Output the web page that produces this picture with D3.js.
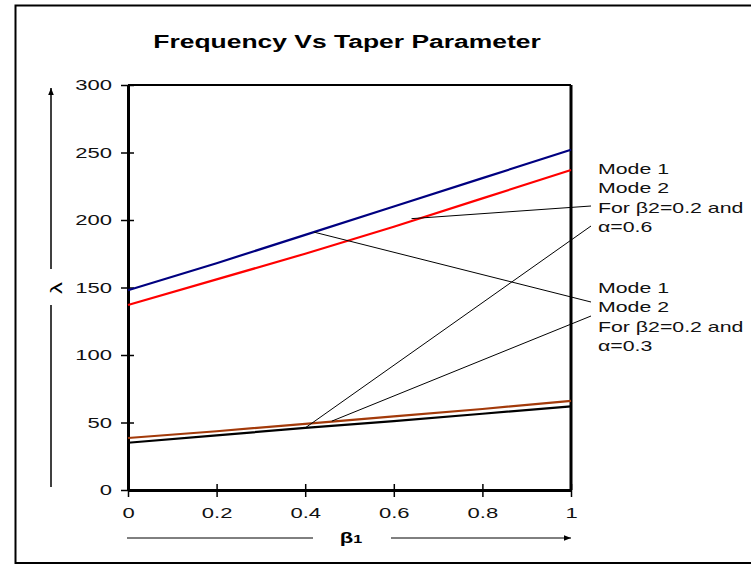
<!DOCTYPE html>
<html>
<head>
<meta charset="utf-8">
<script src="https://cdn.jsdelivr.net/npm/d3@7"></script>
<style>
  body { margin: 0; background: #fff; }
  svg { font-family: "Liberation Sans", Arial, sans-serif; }
</style>
</head>
<body>
<div id="chart-area"></div>
<script>
// beta1 values along the x axis
const beta1 = [0, 0.2, 0.4, 0.6, 0.8, 1];
// alpha = 0.6
const blueSeries = [148, 168, 189, 210, 231, 252];
const redSeries = [137, 156, 175, 195, 216, 237];
// alpha = 0.3
const brownSeries = [38.5, 43.5, 49, 54.5, 60, 66];
const blackSeries = [35, 40.5, 46, 51, 56.5, 62];

const yTicks = [0, 50, 100, 150, 200, 250, 300];
const xTicks = [0, 0.2, 0.4, 0.6, 0.8, 1];

const width = 751, height = 569;
const stretch = 1.47; // the original text is drawn wide

const svg = d3.select("#chart-area")
    .append("svg")
    .attr("width", width)
    .attr("height", height);

// outer frame (right edge runs off the page)
svg.append("path")
    .attr("d", "M760,5.5 H15.5 V563 H760")
    .attr("fill", "none")
    .attr("stroke", "#000")
    .attr("stroke-width", 2);

const x = d3.scaleLinear().domain([0, 1]).range([128, 571]);
const y = d3.scaleLinear().domain([0, 300]).range([490, 85]);

function wideText(sel, px, py) {
    return sel.attr("transform", "translate(" + px + "," + py + ") scale(" + stretch + ",1)");
}

wideText(svg.append("text"), 347, 48)
    .attr("text-anchor", "middle")
    .style("font-weight", "bold")
    .style("font-size", "18px")
    .text("Frequency Vs Taper Parameter");

// plot box: top and right edges
svg.append("line")
    .attr("x1", x(0)).attr("x2", x(1))
    .attr("y1", y(300)).attr("y2", y(300))
    .attr("stroke", "#000").attr("stroke-width", 2);
svg.append("line")
    .attr("x1", x(1)).attr("x2", x(1))
    .attr("y1", y(300)).attr("y2", y(0))
    .attr("stroke", "#000").attr("stroke-width", 3);

// axes
const yAxis = svg.append("g")
    .attr("transform", "translate(" + x(0) + ",0)")
    .call(d3.axisLeft(y).tickValues(yTicks).tickSize(7).tickSizeOuter(0));
const xAxis = svg.append("g")
    .attr("transform", "translate(0," + y(0) + ")")
    .call(d3.axisBottom(x).tickValues(xTicks).tickSize(7).tickSizeOuter(0)
        .tickFormat(d => d === 0 || d === 1 ? d3.format("d")(d) : d3.format(".1f")(d)));

yAxis.select(".domain").attr("stroke-width", 3);
xAxis.select(".domain").attr("stroke-width", 3);
yAxis.selectAll(".tick line").attr("x2", 6).attr("x1", -7).attr("stroke-width", 1.5);
xAxis.selectAll(".tick line").attr("y1", -6).attr("y2", 7).attr("stroke-width", 1.5);
yAxis.selectAll(".tick text")
    .attr("x", 0)
    .attr("transform", "translate(-16,0) scale(" + stretch + ",1)")
    .style("font-size", "15px")
    .style("font-family", "Liberation Sans, Arial, sans-serif")
    .attr("fill", "#111");
xAxis.selectAll(".tick text")
    .attr("y", 0)
    .attr("transform", "translate(0,17) scale(" + stretch + ",1)")
    .style("font-size", "15px")
    .style("font-family", "Liberation Sans, Arial, sans-serif")
    .attr("fill", "#111");

// series lines
const line = d3.line()
    .x((d, i) => x(beta1[i]))
    .y(d => y(d));

const series = [
    { values: brownSeries, color: "#a33a0a" },
    { values: blackSeries, color: "#000000" },
    { values: redSeries, color: "#ff0000" },
    { values: blueSeries, color: "#000080" }
];

svg.selectAll("path.series")
    .data(series)
    .join("path")
    .attr("class", "series")
    .attr("d", d => line(d.values))
    .attr("fill", "none")
    .attr("stroke", d => d.color)
    .attr("stroke-width", 2.2);

// annotation text
const noteA = ["Mode 1", "Mode 2", "For \u03b22=0.2 and", "\u03b1=0.6"];
const noteB = ["Mode 1", "Mode 2", "For \u03b22=0.2 and", "\u03b1=0.3"];

function note(lines, top) {
    svg.append("g").selectAll("text")
        .data(lines)
        .join("text")
        .attr("transform", (d, i) => "translate(598," + (top + i * 19.3) + ") scale(1.42,1)")
        .style("font-size", "15px")
        .attr("fill", "#111")
        .text(d => d);
}
note(noteA, 174);
note(noteB, 293);

// leader lines from the notes to the curves
const leaders = [
    { bx: 0.64, by: 201, tx: 591, ty: 206 },
    { bx: 0.40, by: 46, tx: 591, ty: 226 },
    { bx: 0.42, by: 191, tx: 591, ty: 302 },
    { bx: 0.46, by: 51, tx: 591, ty: 316 }
];
svg.selectAll("line.leader")
    .data(leaders)
    .join("line")
    .attr("class", "leader")
    .attr("x1", d => x(d.bx)).attr("y1", d => y(d.by))
    .attr("x2", d => d.tx).attr("y2", d => d.ty)
    .attr("stroke", "#000")
    .attr("stroke-width", 1);

// arrow marker
svg.append("defs").append("marker")
    .attr("id", "arrow")
    .attr("viewBox", "0 0 10 10")
    .attr("refX", 10).attr("refY", 5)
    .attr("markerWidth", 7).attr("markerHeight", 7)
    .attr("markerUnits", "userSpaceOnUse")
    .attr("orient", "auto")
    .append("path")
    .attr("d", "M0,1 L10,5 L0,9 Z")
    .attr("fill", "#000");

// y label with arrow
svg.append("line")
    .attr("x1", 51).attr("x2", 51).attr("y1", 487).attr("y2", 305)
    .attr("stroke", "#000").attr("stroke-width", 1.5);
svg.append("line")
    .attr("x1", 51).attr("x2", 51).attr("y1", 269).attr("y2", 88)
    .attr("stroke", "#000").attr("stroke-width", 1.5)
    .attr("marker-end", "url(#arrow)");
svg.append("text")
    .attr("transform", "translate(62,288) rotate(-90) scale(1.4,1)")
    .attr("text-anchor", "middle")
    .style("font-size", "17px")
    .text("\u03bb");

// x label with arrow
svg.append("line")
    .attr("x1", 127).attr("x2", 313).attr("y1", 538).attr("y2", 538)
    .attr("stroke", "#000").attr("stroke-width", 1);
svg.append("line")
    .attr("x1", 391).attr("x2", 571).attr("y1", 538).attr("y2", 538)
    .attr("stroke", "#000").attr("stroke-width", 1)
    .attr("marker-end", "url(#arrow)");
const xl = wideText(svg.append("text"), 351, 543)
    .attr("text-anchor", "middle")
    .style("font-weight", "bold")
    .style("font-size", "15px");
xl.append("tspan").text("\u03b2");
xl.append("tspan").style("font-size", "11px").text("1");
</script>
</body>
</html>
